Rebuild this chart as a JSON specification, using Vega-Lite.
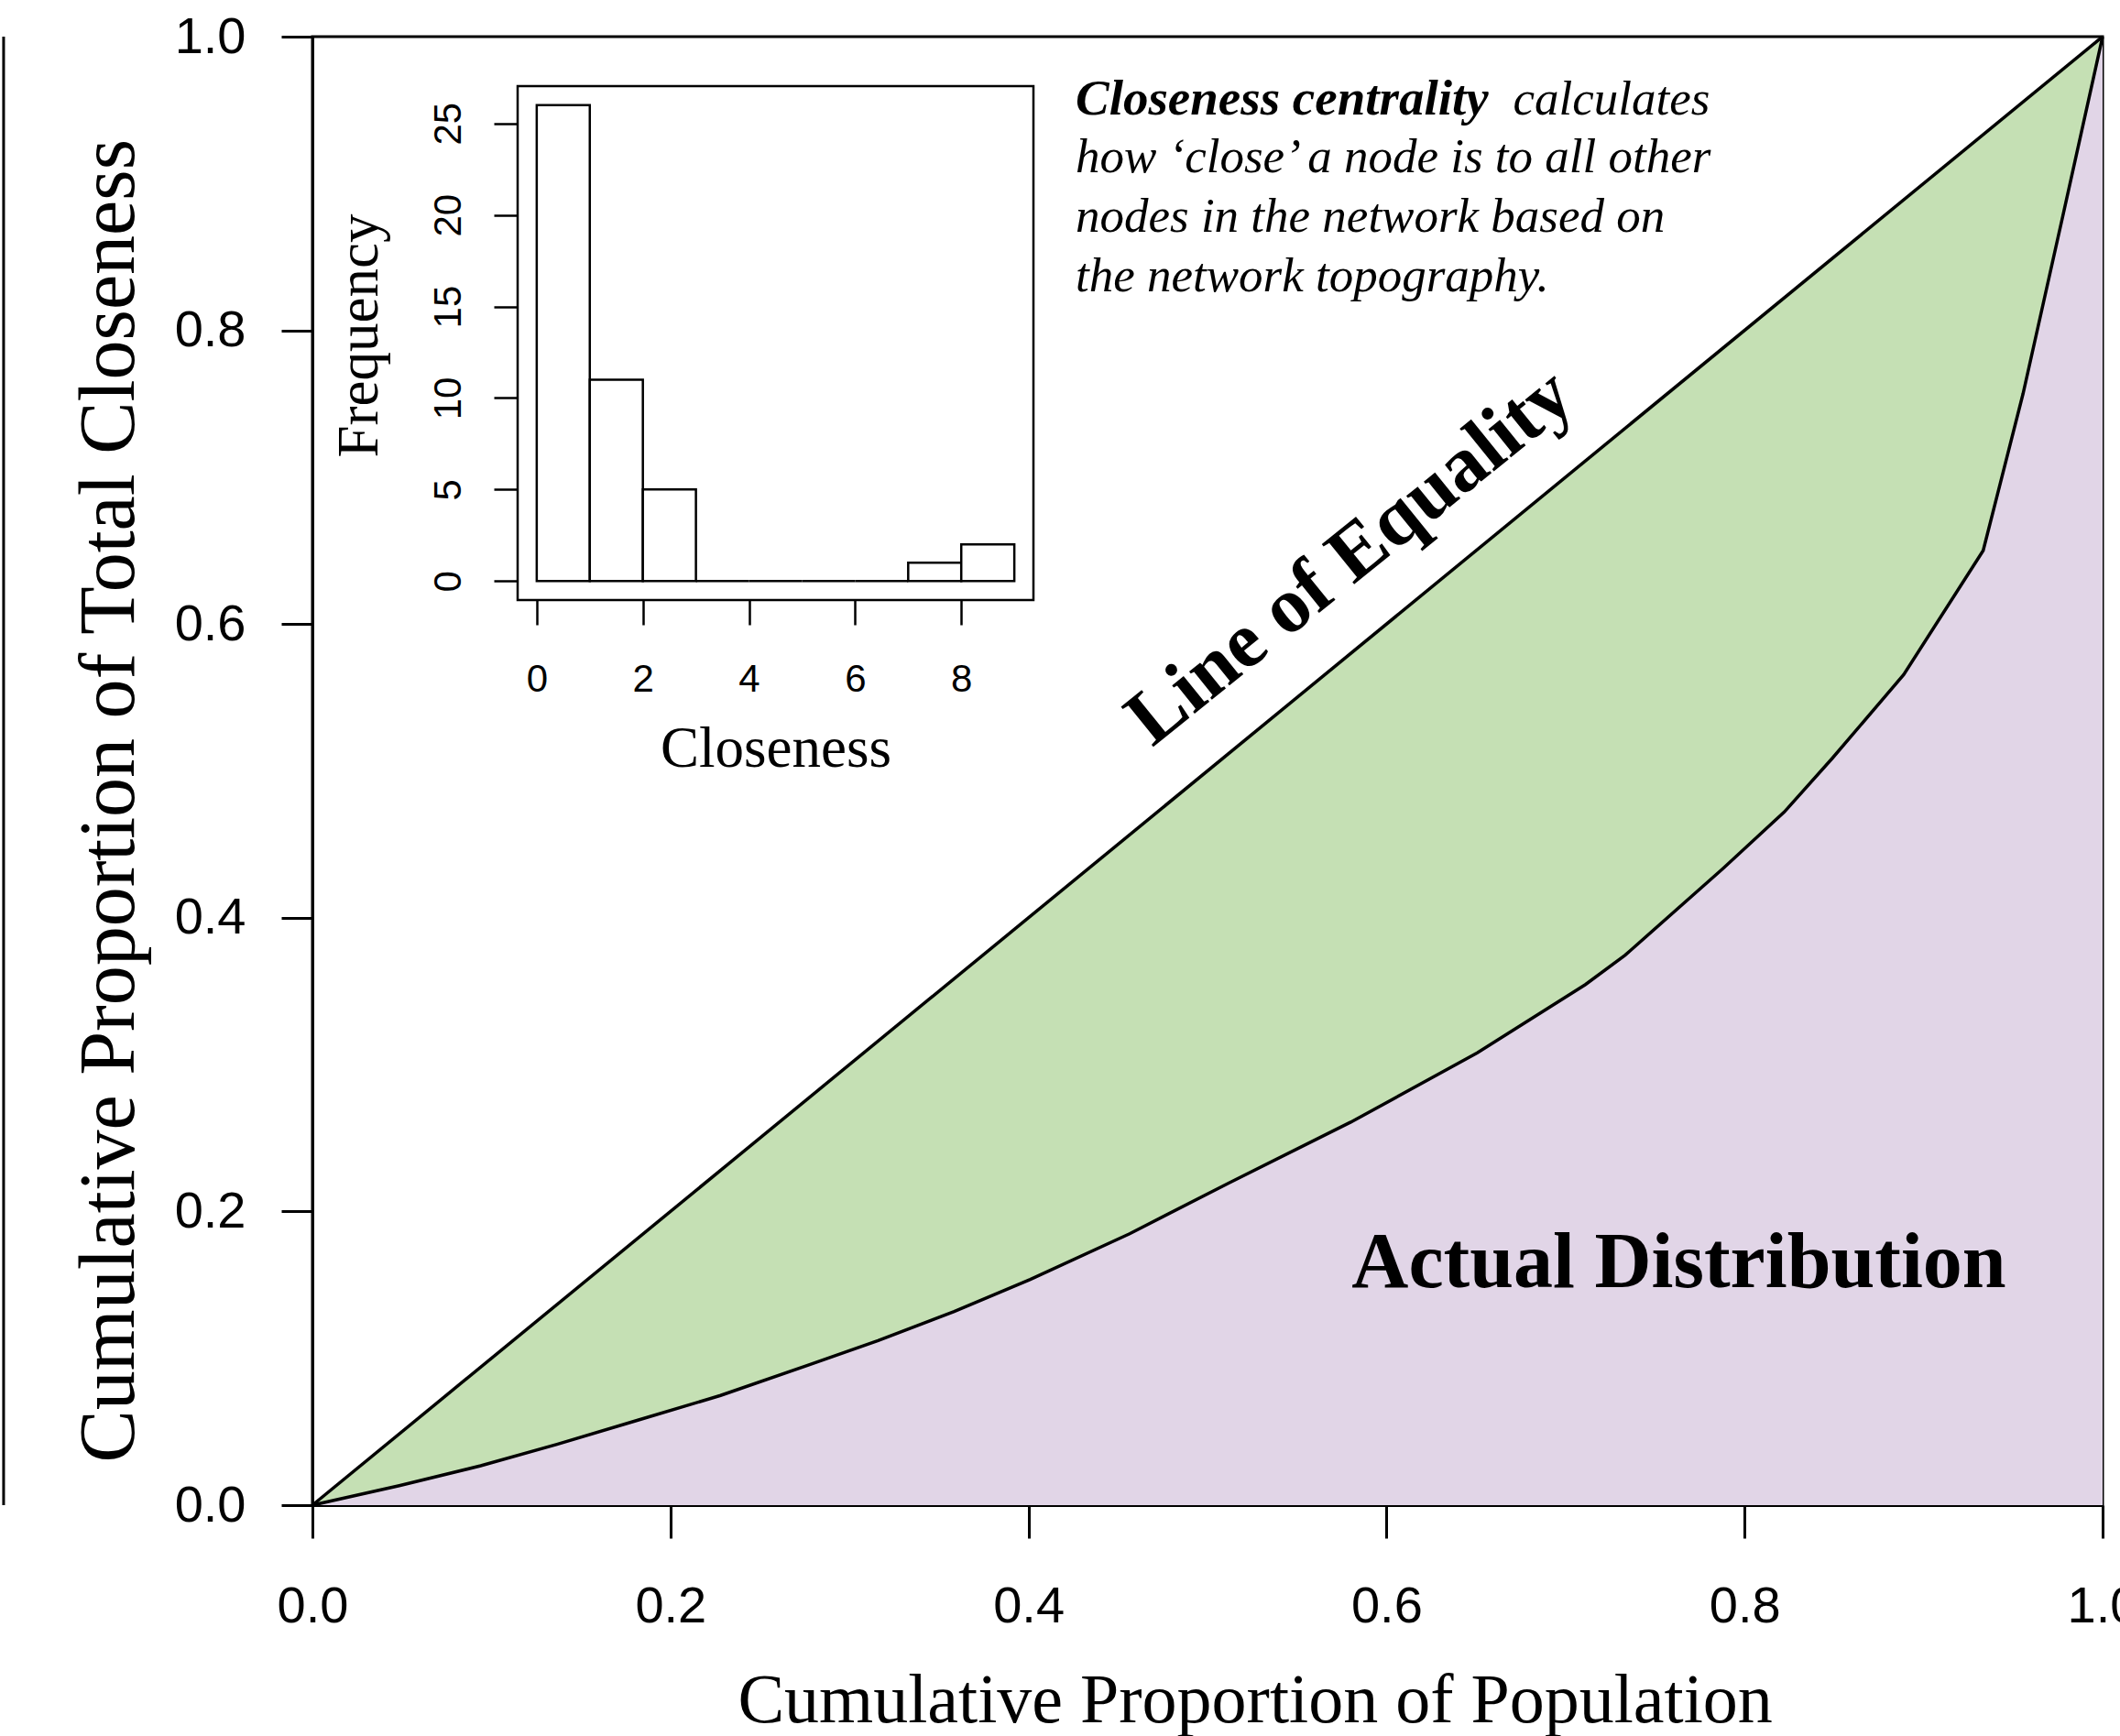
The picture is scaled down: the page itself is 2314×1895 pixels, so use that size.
{
  "$schema": "https://vega.github.io/schema/vega-lite/v6.json",
  "width": 1954,
  "height": 1603,
  "autosize": {"type": "none"},
  "padding": {"left": 341, "top": 40, "right": 19, "bottom": 252},
  "background": "white",
  "datasets": {
    "equality": [{"p": 0, "L": 0}, {"p": 1, "L": 1}],
    "lorenz": [
      {"p": 0, "L": 0}, {"p": 0.0485, "L": 0.0133}, {"p": 0.094, "L": 0.0268}, {"p": 0.1366, "L": 0.0414},
      {"p": 0.1822, "L": 0.058}, {"p": 0.228, "L": 0.0747}, {"p": 0.277, "L": 0.0954}, {"p": 0.316, "L": 0.112},
      {"p": 0.3585, "L": 0.1318}, {"p": 0.401, "L": 0.1537}, {"p": 0.4565, "L": 0.1848}, {"p": 0.5113, "L": 0.219},
      {"p": 0.58, "L": 0.2608}, {"p": 0.6507, "L": 0.308}, {"p": 0.7111, "L": 0.3545}, {"p": 0.7333, "L": 0.3745},
      {"p": 0.788, "L": 0.4336}, {"p": 0.8222, "L": 0.472}, {"p": 0.849, "L": 0.5086}, {"p": 0.8889, "L": 0.5655},
      {"p": 0.9333, "L": 0.65}, {"p": 0.9556, "L": 0.757}, {"p": 0.9778, "L": 0.878}, {"p": 1, "L": 1}
    ],
    "hist": [
      {"bin_start": 0, "bin_end": 1, "count": 26},
      {"bin_start": 1, "bin_end": 2, "count": 11},
      {"bin_start": 2, "bin_end": 3, "count": 5},
      {"bin_start": 3, "bin_end": 4, "count": 0},
      {"bin_start": 4, "bin_end": 5, "count": 0},
      {"bin_start": 5, "bin_end": 6, "count": 0},
      {"bin_start": 6, "bin_end": 7, "count": 0},
      {"bin_start": 7, "bin_end": 8, "count": 1},
      {"bin_start": 8, "bin_end": 9, "count": 2}
    ]
  },
  "layer": [
    {
      "data": {"name": "equality"},
      "mark": {"type": "area", "color": "#C5E0B4", "opacity": 1},
      "encoding": {
        "x": {"field": "p", "type": "quantitative",
          "scale": {"domain": [0, 1], "nice": false, "zero": false},
          "axis": {"orient": "bottom", "values": [0, 0.2, 0.4, 0.6, 0.8, 1.0], "format": ".1f", "tickSize": 36, "labelPadding": 47,
            "labelFontSize": 56, "labelFlush": false, "labelOverlap": false,
            "title": "Cumulative Proportion of Population", "titleFontSize": 76,
            "titleX": 1028.6, "titleY": 236, "titleAlign": "center", "titleBaseline": "alphabetic"}},
        "y": {"field": "L", "type": "quantitative",
          "scale": {"domain": [0, 1], "nice": false, "zero": false},
          "axis": {"orient": "left", "values": [0, 0.2, 0.4, 0.6, 0.8, 1.0], "format": ".1f", "tickSize": 34, "labelPadding": 39,
            "labelFontSize": 56, "labelAlign": "right", "labelBaseline": "middle", "labelFlush": false, "labelOverlap": false,
            "title": "Cumulative Proportion of Total Closeness", "titleFontSize": 86,
            "titleX": -196, "titleY": 833.7, "titleAngle": -90, "titleAlign": "center", "titleBaseline": "alphabetic"}}
      }
    },
    {
      "data": {"name": "lorenz"},
      "mark": {"type": "area", "color": "#E1D5E7", "opacity": 1},
      "encoding": {
        "x": {"field": "p", "type": "quantitative", "scale": {"domain": [0, 1], "nice": false, "zero": false}, "axis": null},
        "y": {"field": "L", "type": "quantitative", "scale": {"domain": [0, 1], "nice": false, "zero": false}, "axis": null}
      }
    },
    {
      "data": {"name": "equality"},
      "mark": {"type": "line", "color": "black", "strokeWidth": 3.5},
      "encoding": {
        "x": {"field": "p", "type": "quantitative", "scale": {"domain": [0, 1], "nice": false, "zero": false}, "axis": null},
        "y": {"field": "L", "type": "quantitative", "scale": {"domain": [0, 1], "nice": false, "zero": false}, "axis": null}
      }
    },
    {
      "data": {"name": "lorenz"},
      "mark": {"type": "line", "color": "black", "strokeWidth": 3.5},
      "encoding": {
        "x": {"field": "p", "type": "quantitative", "scale": {"domain": [0, 1], "nice": false, "zero": false}, "axis": null},
        "y": {"field": "L", "type": "quantitative", "scale": {"domain": [0, 1], "nice": false, "zero": false}, "axis": null}
      }
    },
    {
      "data": {"values": [{}]},
      "mark": {"type": "rule", "color": "black", "strokeWidth": 3},
      "encoding": {
        "x": {"datum": -0.1725, "type": "quantitative", "scale": {"domain": [0, 1], "nice": false, "zero": false}, "axis": null},
        "y": {"datum": 0, "type": "quantitative", "scale": {"domain": [0, 1], "nice": false, "zero": false}, "axis": null},
        "y2": {"datum": 1}
      }
    },
    {
      "data": {"values": [{}]},
      "mark": {"type": "text", "font": "Liberation Serif", "fontWeight": "bold", "fontSize": 86, "angle": -39,
        "align": "center", "baseline": "alphabetic", "color": "black", "text": "Line of Equality"},
      "encoding": {
        "x": {"datum": 0.588, "type": "quantitative", "scale": {"domain": [0, 1], "nice": false, "zero": false}, "axis": null},
        "y": {"datum": 0.633, "type": "quantitative", "scale": {"domain": [0, 1], "nice": false, "zero": false}, "axis": null}
      }
    },
    {
      "data": {"values": [{}]},
      "mark": {"type": "text", "font": "Liberation Serif", "fontWeight": "bold", "fontSize": 86,
        "align": "center", "baseline": "alphabetic", "color": "black", "text": "Actual Distribution"},
      "encoding": {
        "x": {"datum": 0.7633, "type": "quantitative", "scale": {"domain": [0, 1], "nice": false, "zero": false}, "axis": null},
        "y": {"datum": 0.1485, "type": "quantitative", "scale": {"domain": [0, 1], "nice": false, "zero": false}, "axis": null}
      }
    },
    {
      "data": {"values": [{}]},
      "mark": {"type": "text", "font": "Liberation Serif", "fontWeight": "bold", "fontStyle": "italic", "fontSize": 55,
        "align": "left", "baseline": "alphabetic", "color": "black", "text": "Closeness centrality"},
      "encoding": {
        "x": {"datum": 0.4263, "type": "quantitative", "scale": {"domain": [0, 1], "nice": false, "zero": false}, "axis": null},
        "y": {"datum": 0.947, "type": "quantitative", "scale": {"domain": [0, 1], "nice": false, "zero": false}, "axis": null}
      }
    },
    {
      "data": {"values": [{}]},
      "mark": {"type": "text", "font": "Liberation Serif", "fontStyle": "italic", "fontSize": 53,
        "align": "right", "baseline": "alphabetic", "color": "black", "text": "calculates"},
      "encoding": {
        "x": {"datum": 0.7806, "type": "quantitative", "scale": {"domain": [0, 1], "nice": false, "zero": false}, "axis": null},
        "y": {"datum": 0.947, "type": "quantitative", "scale": {"domain": [0, 1], "nice": false, "zero": false}, "axis": null}
      }
    },
    {
      "data": {"values": [{}]},
      "mark": {"type": "text", "font": "Liberation Serif", "fontStyle": "italic", "fontSize": 53,
        "align": "left", "baseline": "alphabetic", "color": "black", "text": "how ‘close’ a node is to all other"},
      "encoding": {
        "x": {"datum": 0.4263, "type": "quantitative", "scale": {"domain": [0, 1], "nice": false, "zero": false}, "axis": null},
        "y": {"datum": 0.9077, "type": "quantitative", "scale": {"domain": [0, 1], "nice": false, "zero": false}, "axis": null}
      }
    },
    {
      "data": {"values": [{}]},
      "mark": {"type": "text", "font": "Liberation Serif", "fontStyle": "italic", "fontSize": 53,
        "align": "left", "baseline": "alphabetic", "color": "black", "text": "nodes in the network based on"},
      "encoding": {
        "x": {"datum": 0.4263, "type": "quantitative", "scale": {"domain": [0, 1], "nice": false, "zero": false}, "axis": null},
        "y": {"datum": 0.8671, "type": "quantitative", "scale": {"domain": [0, 1], "nice": false, "zero": false}, "axis": null}
      }
    },
    {
      "data": {"values": [{}]},
      "mark": {"type": "text", "font": "Liberation Serif", "fontStyle": "italic", "fontSize": 53,
        "align": "left", "baseline": "alphabetic", "color": "black", "text": "the network topography."},
      "encoding": {
        "x": {"datum": 0.4263, "type": "quantitative", "scale": {"domain": [0, 1], "nice": false, "zero": false}, "axis": null},
        "y": {"datum": 0.8266, "type": "quantitative", "scale": {"domain": [0, 1], "nice": false, "zero": false}, "axis": null}
      }
    },
    {
      "data": {"values": [{}]},
      "mark": {"type": "rect", "fill": "white", "stroke": "black", "strokeWidth": 2.5},
      "encoding": {
        "x": {"datum": -0.36, "type": "quantitative",
          "scale": {"domain": [-0.36, 9.36], "range": [224, 787], "nice": false, "zero": false}, "axis": null},
        "x2": {"datum": 9.36},
        "y": {"datum": -1.04, "type": "quantitative",
          "scale": {"domain": [-1.04, 27.04], "range": [615, 54], "nice": false, "zero": false}, "axis": null},
        "y2": {"datum": 27.04}
      }
    },
    {
      "data": {"name": "hist"},
      "mark": {"type": "rect", "fill": "white", "stroke": "black", "strokeWidth": 2.5},
      "encoding": {
        "x": {"field": "bin_start", "type": "quantitative",
          "scale": {"domain": [-0.36, 9.36], "range": [224, 787], "nice": false, "zero": false},
          "axis": {"orient": "bottom", "offset": -988, "values": [0, 2, 4, 6, 8], "domain": false,
            "tickSize": 27, "tickWidth": 2.5, "labelPadding": 39, "labelFontSize": 42, "labelFlush": false, "labelOverlap": false,
            "title": "Closeness", "titleFontSize": 63, "titleX": 505.5, "titleY": 181.7,
            "titleAlign": "center", "titleBaseline": "alphabetic"}},
        "x2": {"field": "bin_end"},
        "y": {"field": "count", "type": "quantitative",
          "scale": {"domain": [-1.04, 27.04], "range": [615, 54], "nice": false, "zero": false},
          "axis": {"orient": "left", "offset": -224, "values": [0, 5, 10, 15, 20, 25], "domain": false,
            "tickSize": 26, "tickWidth": 2.5, "labelPadding": 37, "labelFontSize": 42, "labelAngle": 270,
            "labelAlign": "center", "labelBaseline": "alphabetic", "labelFlush": false, "labelOverlap": false,
            "title": "Frequency", "titleFontSize": 63, "titleX": -154, "titleY": 326, "titleAngle": -90,
            "titleAlign": "center", "titleBaseline": "alphabetic"}},
        "y2": {"datum": 0}
      }
    }
  ],
  "resolve": {"scale": {"x": "independent", "y": "independent"}, "axis": {"x": "independent", "y": "independent"}},
  "config": {
    "view": {"stroke": "black", "strokeWidth": 3},
    "axis": {"grid": false, "domainColor": "black", "tickColor": "black", "labelColor": "black", "titleColor": "black",
      "labelFont": "Liberation Sans", "titleFont": "Liberation Serif", "titleFontWeight": "normal",
      "tickWidth": 3, "domainWidth": 3}
  }
}
